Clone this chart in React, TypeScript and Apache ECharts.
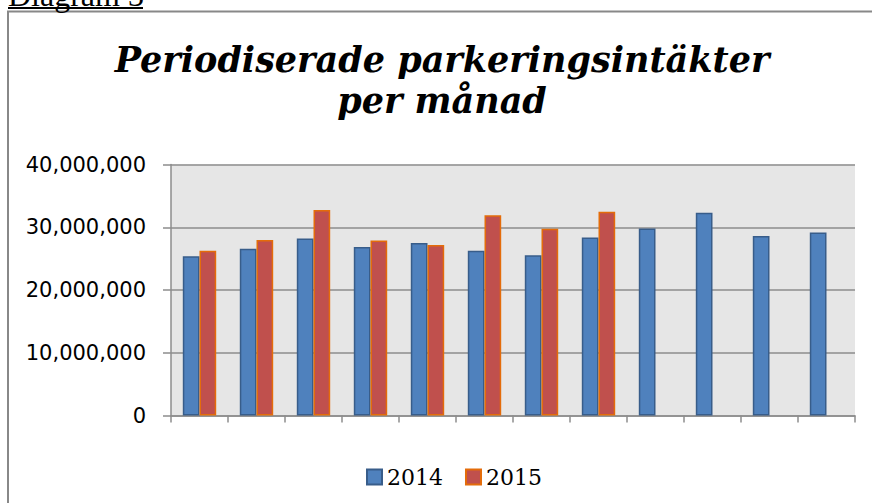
import React, { useEffect, useRef } from "react";
import * as echarts from "echarts";

const months = ["jan", "feb", "mar", "apr", "maj", "jun", "jul", "aug", "sep", "okt", "nov", "dec"];
const series2014 = [25360000, 26570000, 28220000, 26840000, 27480000, 26250000, 25520000, 28380000, 29810000, 32300000, 28590000, 29180000];
const series2015 = [26250000, 27960000, 32730000, 27900000, 27160000, 31930000, 29750000, 32460000, null, null, null, null];
const seriesNames = ["2014", "2015"];
const yTicks = { min: 0, max: 40000000, interval: 10000000 };
const titleLines = ["Periodiserade parkeringsintäkter", "per månad"];
const headerText = "Diagram 3";

export default function App() {
  const ref = useRef<HTMLDivElement>(null);
  useEffect(() => {
    if (!ref.current) return;
    const chart = echarts.init(ref.current, undefined, { renderer: "svg" });
    const gridColor = "#8c8c8c";
    chart.setOption({
      animation: false,
      backgroundColor: "#ffffff",
      title: {
        text: titleLines.join("\n"),
        left: 442,
        top: 39,
        textAlign: "center",
        padding: 0,
        textStyle: {
          fontFamily: "DejaVu Serif",
          fontStyle: "italic",
          fontWeight: "bold",
          fontSize: 35,
          lineHeight: 41,
          color: "#000",
        },
      },
      graphic: [
        {
          type: "rect",
          shape: { x: 8, y: 11.5, width: 1000, height: 1000 },
          style: { fill: "none", stroke: "#888", lineWidth: 2 },
          silent: true,
        },
        {
          type: "text",
          x: 8,
          y: -5,
          style: {
            text: headerText,
            font: "32px 'Liberation Serif'",
            fill: "#000",
            verticalAlign: "middle",
          },
        },
        {
          type: "line",
          shape: { x1: 8, y1: 8, x2: 143, y2: 8 },
          style: { stroke: "#000", lineWidth: 2 },
        },
      ],
      legend: {
        data: seriesNames,
        left: 361,
        top: 461,
        itemWidth: 15,
        itemHeight: 15,
        itemGap: 22,
        icon: "rect",
        textStyle: { fontFamily: "DejaVu Serif", fontSize: 22, color: "#000" },
      },
      grid: {
        left: 171,
        top: 164.5,
        right: 17,
        bottom: 87.5,
        show: true,
        backgroundColor: "#e6e6e6",
        borderWidth: 0,
      },
      xAxis: {
        type: "category",
        data: months,
        boundaryGap: true,
        axisLine: { show: true, lineStyle: { color: gridColor, width: 1.5 } },
        axisTick: { show: true, interval: 0, length: 7, lineStyle: { color: gridColor, width: 1.5 } },
        axisLabel: { show: false },
        splitLine: { show: false },
      },
      yAxis: {
        type: "value",
        min: yTicks.min,
        max: yTicks.max,
        interval: yTicks.interval,
        axisLine: { show: true, lineStyle: { color: gridColor, width: 1.5 } },
        axisTick: { show: true, length: 8, lineStyle: { color: gridColor, width: 1.5 } },
        axisLabel: {
          margin: 25,
          fontFamily: "DejaVu Sans",
          fontSize: 21,
          color: "#000",
          formatter: (v: number) => v.toLocaleString("en-US"),
        },
        splitLine: { show: true, lineStyle: { color: gridColor, width: 1.5 } },
      },
      series: [
        {
          name: seriesNames[0],
          type: "bar",
          data: series2014,
          barWidth: 16.7,
          barGap: "0%",
          itemStyle: { color: "#4f81bd", borderColor: "#385d8a", borderWidth: 1.5 },
        },
        {
          name: seriesNames[1],
          type: "bar",
          data: series2015,
          barWidth: 16.7,
          barGap: "0%",
          itemStyle: { color: "#c0504d", borderColor: "#e46c0a", borderWidth: 1.5 },
        },
      ],
    });
    return () => chart.dispose();
  }, []);
  return (
    <div
      ref={ref}
      style={{ position: "fixed", left: 0, top: 0, width: 872, height: 503 }}
    />
  );
}
